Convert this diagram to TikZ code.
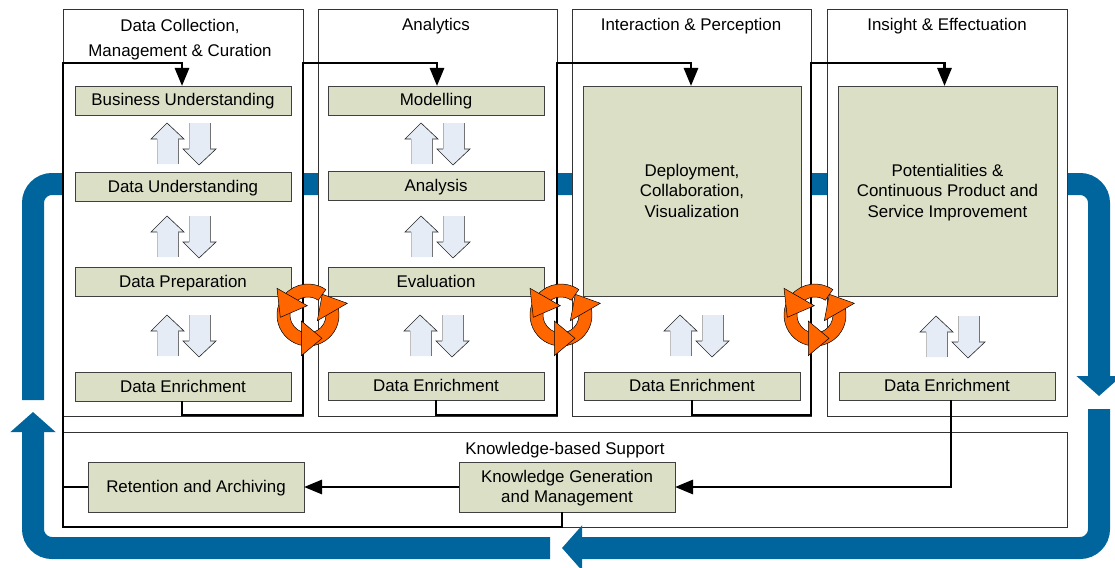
\documentclass[tikz,border=0pt]{standalone}
\usepackage{fontspec}
\setmainfont{Liberation Sans}
\usetikzlibrary{arrows.meta,shadows}
\definecolor{bandblue}{HTML}{00659C}
\definecolor{stepgreen}{HTML}{DADFC6}
\definecolor{paleblue}{HTML}{E6ECF6}
\definecolor{cycleorange}{HTML}{FF6600}
\tikzset{
	lbl/.style={font=\fontsize{16.9}{20.5}\selectfont,align=center,inner sep=0pt,outer sep=0pt},
	colbox/.style={draw=black!80,fill=white,line width=.7pt,outer sep=0pt,anchor=north west,general shadow={shadow xshift=.5pt,shadow yshift=-1pt,fill=black!45}},
	stepbox/.style={lbl,execute at begin node={\rule{0pt}{15pt}},execute at end node={\rule[-4pt]{0pt}{4pt}},draw=black!75,fill=stepgreen,line width=.7pt,anchor=north west,general shadow={shadow xshift=1pt,shadow yshift=-1pt,fill=black!45}},
	tallbox/.style={stepbox,text depth=1pt},
	flow/.style={line width=2.9pt,black},
	flowhead/.style={-{Triangle[length=18pt,width=14pt]}},
	band/.style={line width=22pt,bandblue,rounded corners=19pt},
	bandhead/.style={-{Triangle[length=20pt,width=44pt]}},
	updown/.pic={
		\fill[paleblue] (-16,0) -- (-32,16) -- (-26,16) -- (-26,41) -- (-5,41) -- (-5,16) -- (1,16) -- cycle;
		\draw[black!85,line width=.6pt] (-26,16) -- (-32,16) -- (-16,0) -- (1,16) -- (-5,16);
		\draw[black!55,line width=.8pt] (-5,16) -- (-5,41);
		\draw[black!25,line width=.6pt] (-26,16) -- (-26,41);
		\fill[paleblue] (6,0) -- (27,0) -- (27,26) -- (33,26) -- (16,42) -- (0,26) -- (6,26) -- cycle;
		\draw[black!85,line width=.6pt] (6,26) -- (0,26) -- (16,42) -- (33,26) -- (27,26);
		\draw[black!55,line width=.8pt] (27,0) -- (27,26);
		\draw[black!30,line width=.6pt] (6,0) -- (6,26);
	},
	recycle/.pic={
		\draw[fill=cycleorange,draw=black,line width=.5pt] (-55:31) arc[start angle=-55,end angle=-140,radius=31] -- (-140:18) arc[start angle=-140,end angle=-55,radius=18] -- cycle;
		\draw[fill=cycleorange,draw=black,line width=.5pt] (200:31) arc[start angle=200,end angle=95,radius=31] -- (95:18) arc[start angle=95,end angle=200,radius=18] -- cycle;
		\draw[fill=cycleorange,draw=black,line width=.5pt] (85:31) arc[start angle=85,end angle=-30,radius=31] -- (-30:18) arc[start angle=-30,end angle=85,radius=18] -- cycle;
		\draw[fill=cycleorange,draw=black,line width=.5pt] (-31,-26.7) -- (-.7,-9.3) -- (-27.7,2.3) -- cycle;
		\draw[fill=cycleorange,draw=black,line width=.5pt] (14,23.3) -- (-6.7,6) -- (-6.7,40.7) -- cycle;
		\draw[fill=cycleorange,draw=black,line width=.5pt] (39.3,-11.7) -- (14.3,-20.7) -- (9.3,5.7) -- cycle;
	},
}
\begin{document}
\begin{tikzpicture}[x=1pt,y=-1pt]
	\useasboundingbox (0,0) rectangle (1115,567);
	%BAND TOP
	\coordinate (bandstart) at (33,400);
	\coordinate (bandtl) at (33,184);
	\coordinate (bandtr) at (1099,184);
	\coordinate (bandend) at (1099,396);
	\draw[band,bandhead] (bandstart) -- (bandtl) -- (bandtr) -- (bandend);
	%COLUMNS
	\node[colbox,minimum width=240,minimum height=407] (col1) at (63,9) {};
	\node[colbox,minimum width=239,minimum height=407] (col2) at (318,9) {};
	\node[colbox,minimum width=239,minimum height=407] (col3) at (572,9) {};
	\node[colbox,minimum width=240,minimum height=407] (col4) at (827,9) {};
	\node[colbox,minimum width=1004,minimum height=95] (support) at (63,432) {};
	\node[lbl] (head1) at (180,39.5) {Data Collection,\\[4.5pt]Management \& Curation};
	\node[lbl] (head2) at (436,26.5) {Analytics};
	\node[lbl] (head3) at (691,26.5) {Interaction \& Perception};
	\node[lbl] (head4) at (947,26.5) {Insight \& Effectuation};
	\node[lbl] (head5) at (565,450) {Knowledge-based Support};
	%BAND BOTTOM
	\coordinate (bandb) at (1099,409);
	\coordinate (bandbr) at (1099,548);
	\coordinate (bandmid) at (562,548);
	\coordinate (bandc) at (550,548);
	\coordinate (bandbl) at (33,548);
	\coordinate (bandup) at (33,412);
	\draw[band,bandhead] (bandb) -- (bandbr) -- (bandmid);
	\draw[band,bandhead] (bandc) -- (bandbl) -- (bandup);
	%COLUMN 1
	\node[stepbox,minimum width=216,minimum height=29] (business) at (75,86) {Business Understanding};
	\node[stepbox,minimum width=216,minimum height=29] (dataund) at (75,172) {Data Understanding};
	\node[stepbox,minimum width=216,minimum height=29] (dataprep) at (75,267) {Data Preparation};
	\node[stepbox,minimum width=216,minimum height=29] (enrich1) at (75,372) {Data Enrichment};
	%COLUMN 2
	\node[stepbox,minimum width=216,minimum height=29] (model) at (328,86) {Modelling};
	\node[stepbox,minimum width=216,minimum height=29] (analysis) at (328,171) {Analysis};
	\node[stepbox,minimum width=216,minimum height=29] (evaluation) at (328,267) {Evaluation};
	\node[stepbox,minimum width=216,minimum height=28] (enrich2) at (328,372) {Data Enrichment};
	%COLUMN 3
	\node[tallbox,minimum width=218,minimum height=210] (deploy) at (583,86) {Deployment,\\Collaboration,\\Visualization};
	\node[stepbox,minimum width=216,minimum height=28] (enrich3) at (584,372) {Data Enrichment};
	%COLUMN 4
	\node[tallbox,minimum width=219,minimum height=210] (insight) at (838,86) {Potentialities \&\\Continuous Product and\\Service Improvement};
	\node[stepbox,minimum width=216,minimum height=28] (enrich4) at (839,372) {Data Enrichment};
	%SUPPORT
	\node[tallbox,minimum width=216,minimum height=50] (know) at (459,462) {Knowledge Generation\\and Management};
	\node[stepbox,minimum width=216,minimum height=50] (retain) at (88,462) {Retention and Archiving};
	%UP AND DOWN
	\pic at (183,123) {updown};
	\pic at (183,216) {updown};
	\pic at (183,315) {updown};
	\pic at (437,123) {updown};
	\pic at (437,216) {updown};
	\pic at (436,315) {updown};
	\pic at (696,315) {updown};
	\pic at (952,316) {updown};
	%FLOW
	\coordinate (low0) at (63,527);
	\coordinate (top0) at (63,63);
	\coordinate (low1) at (303,415);
	\coordinate (top1) at (303,63);
	\coordinate (low2) at (557,415);
	\coordinate (top2) at (557,63);
	\coordinate (low3) at (811,415);
	\coordinate (top3) at (811,63);
	\draw[flow,flowhead] ([xshift=-5pt]know.south) |- (low0) -- (top0) -| ([xshift=-1pt]business.north);
	\draw[flow] (retain.west) -- (retain.west -| low0);
	\draw[flow,flowhead] ([xshift=-1pt]enrich1.south) |- (low1) -- (top1) -| ([xshift=1pt]model.north);
	\draw[flow,flowhead] (enrich2.south) |- (low2) -- (top2) -| ([xshift=-1pt]deploy.north);
	\draw[flow,flowhead] (enrich3.south) |- (low3) -- (top3) -| ([xshift=-3pt]insight.north);
	\draw[flow,flowhead] ([xshift=4pt]enrich4.south) |- (know.east);
	\draw[flow,flowhead] (know.west) -- (retain.east);
	%CYCLES
	\pic at (308,315) {recycle};
	\pic at (561,315) {recycle};
	\pic at (815,315) {recycle};
\end{tikzpicture}
\end{document}
